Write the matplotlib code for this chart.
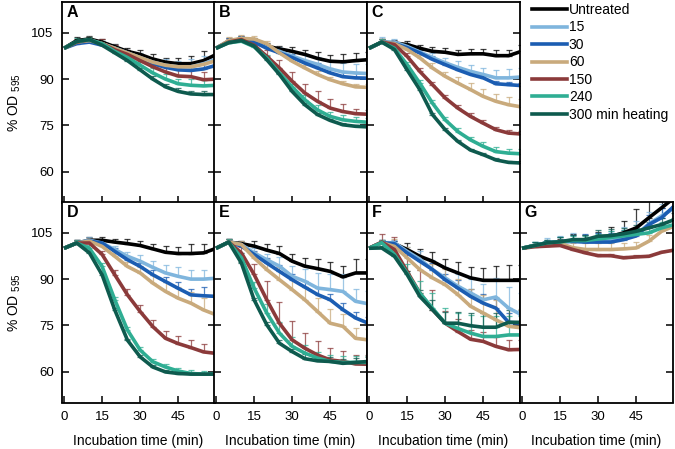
import matplotlib
matplotlib.use('Agg')
import matplotlib.pyplot as plt
from matplotlib.lines import Line2D
import numpy as np

plt.rcParams['font.family'] = ['Liberation Sans', 'DejaVu Sans']
plt.rcParams['mathtext.default'] = 'regular'

# incubation time points (min)
time = [0, 5, 10, 15, 20, 25, 30, 35, 40, 45, 50, 55, 60]
labels = ['Untreated', '15', '30', '60', '150', '240', '300 min heating']
colors = ['#000000', '#7fb5dd', '#1b5db2', '#c9aa7c', '#8b3a3a', '#2fae93', '#0e5a4e']
panel_names = ['A', 'B', 'C', 'D', 'E', 'F', 'G']

# mean % OD595, one row per treatment (Untreated, 15, 30, 60, 150, 240, 300)
panel_A = [
    [100, 102.5, 103, 102, 100.5, 99, 98, 96.5, 95.5, 95, 95, 96, 98],
    [100, 102, 102.5, 101.5, 100, 98.5, 97, 95.5, 94.5, 94, 94, 95, 96.5],
    [100, 101.5, 102, 101, 100, 98.5, 96.5, 95, 93.8, 93, 92.8, 93.3, 94.5],
    [100, 102, 102.5, 101.5, 100, 98.5, 97, 95.5, 94.5, 94, 94, 94.8, 96],
    [100, 102, 102.8, 101.5, 99.5, 98, 96, 94, 92.3, 91, 90.8, 89.8, 90],
    [100, 102.2, 102.8, 101.5, 99, 97, 94.5, 92, 90, 88.5, 88, 87.8, 88],
    [100, 102.2, 102.8, 101, 98.5, 96, 93, 90, 87.5, 86, 85.2, 85, 85],
]
panel_B = [
    [100, 102.3, 103, 102.3, 100.7, 99.8, 99, 98, 96.7, 95.8, 95.6, 96, 96.3],
    [100, 102.3, 103, 102, 100.3, 99, 97.5, 96, 94.8, 93.3, 92.3, 92, 91.8],
    [100, 102.3, 103, 102, 100, 98.5, 97, 95.2, 93.6, 92, 90.8, 90.4, 90.3],
    [100, 102.5, 103.2, 103, 101.5, 98.5, 95.8, 93.6, 91.5, 89.8, 88.5, 87.5, 87.3],
    [100, 102, 102.8, 101, 97.4, 93.6, 89.3, 85.5, 82.8, 80.6, 79.5, 78.8, 78.6],
    [100, 101.8, 102.3, 100.5, 96.8, 92, 87.5, 83.3, 80, 77.9, 76.8, 76.3, 76],
    [100, 101.8, 102.5, 100.7, 96.3, 91.5, 86, 81.7, 78.5, 76.6, 75.2, 74.7, 74.5],
]
panel_C = [
    [100, 102, 101.7, 101.2, 100, 99, 98.7, 98, 98.2, 98.2, 97.6, 97.6, 99],
    [100, 102, 102, 100.6, 98.8, 97, 95.3, 93.8, 92.5, 91.5, 90.4, 90.4, 90.7],
    [100, 102, 101.5, 100.2, 98.5, 96.4, 94.7, 93, 91.5, 90.4, 88.5, 88.2, 87.9],
    [100, 102, 101.5, 99.6, 96.9, 93.6, 90.9, 88.7, 86.6, 84.4, 82.8, 81.7, 81],
    [100, 102, 101.2, 97.4, 92.5, 88.2, 83.9, 80.6, 77.9, 75.7, 73.6, 72.5, 72.2],
    [100, 102, 100, 94.7, 88.7, 82.2, 76.8, 73, 70.3, 68.2, 66.5, 66, 65.8],
    [100, 102, 99.6, 93, 86.6, 78.5, 73.6, 69.8, 67, 65.5, 63.8, 63, 62.8],
]
panel_D = [
    [100, 101.7, 102.6, 102.6, 102, 101.5, 100.9, 99.8, 98.7, 98.3, 98.3, 98.5, 100],
    [100, 101.7, 102.6, 101.7, 99.6, 97.4, 95.8, 93.8, 92, 90.9, 90, 90, 90.3],
    [100, 101.7, 102.3, 101.7, 99, 96.3, 94.1, 91.4, 89.2, 87, 84.9, 84.6, 84.4],
    [100, 101.7, 102.3, 100.6, 97.4, 94.1, 92, 88.7, 86, 83.8, 82.2, 80, 78.4],
    [100, 101.7, 101.7, 98, 91.4, 84.9, 79.5, 74.6, 70.8, 69.1, 67.8, 66.4, 65.9],
    [100, 101.7, 100, 94.1, 83.3, 73.5, 67, 63.2, 61.5, 60.2, 59.4, 59.2, 59.2],
    [100, 101.7, 98.5, 91.4, 80, 70.2, 64.8, 61.5, 59.9, 59.4, 59.2, 59.2, 59.2],
]
panel_E = [
    [100, 102, 101.5, 100.7, 99.4, 98.3, 95.8, 94.2, 93.4, 92.5, 90.7, 92, 92],
    [100, 102, 101.2, 98.5, 96.3, 94.2, 90.9, 89.3, 87.1, 86.6, 86, 82.8, 82],
    [100, 102, 100.7, 98, 95.2, 92.5, 89.8, 87.4, 85, 83.3, 80.1, 77.4, 75.7],
    [100, 102, 101.2, 96.9, 93.1, 89.8, 86.6, 83.3, 79.5, 75.7, 74.7, 70.8, 70.3],
    [100, 102, 98.5, 91.5, 83.3, 75.7, 70.3, 67.6, 65.4, 63.8, 63.3, 62.5, 62.4],
    [100, 102, 96.9, 87.1, 79, 72.5, 68.2, 66, 64.4, 63.3, 63, 63, 63],
    [100, 102, 95.2, 83.3, 75.2, 69.2, 66.5, 64.2, 63.5, 63.3, 62.7, 63, 63.3],
]
panel_F = [
    [100, 101.8, 101.5, 99.6, 97.4, 95.8, 93.6, 92, 90.4, 89.6, 89.6, 89.6, 89.6],
    [100, 101.8, 101.8, 99, 96.5, 93.1, 90.4, 87.7, 85.5, 83.3, 84.2, 80.6, 78.5],
    [100, 101.8, 101.5, 98.5, 95.8, 93.1, 89.8, 87.1, 84.4, 82.2, 80.6, 76, 75.7],
    [100, 101.8, 100.6, 96.9, 93.1, 90.4, 88.2, 85, 81.2, 79, 76.8, 74.7, 74.2],
    [100, 102, 99.6, 92.5, 85.5, 80.1, 75.7, 73, 70.5, 69.8, 68.2, 67.1, 67.2],
    [100, 101.8, 98, 91.9, 85.5, 80.6, 75.7, 74, 72.5, 71.4, 71.4, 71.9, 71.9],
    [100, 100.1, 97.4, 91.5, 84.4, 80.1, 75.7, 75.7, 74.9, 74.4, 74.4, 76, 76],
]
panel_G = [
    [100, 100.9, 101.8, 102.1, 102.5, 102.8, 103.2, 103.8, 105, 106.6, 109.9, 113.1, 116.4],
    [100, 100.9, 101.8, 102.1, 102.5, 102.3, 102.3, 102.5, 103, 104.5, 107.9, 110.5, 113],
    [100, 100.9, 101.8, 102.1, 102.2, 102, 102, 102, 102.8, 104, 107.7, 109.9, 113.7],
    [100, 100.9, 101.5, 101.6, 100.2, 99.6, 99.6, 99.6, 99.8, 100.1, 102.3, 105.5, 107.2],
    [100, 100.5, 100.7, 100.9, 99.6, 98.5, 97.6, 97.6, 96.9, 97.2, 97.4, 98.7, 99.4],
    [100, 100.9, 101.8, 102.1, 102.5, 102.5, 103, 103.5, 104, 104.5, 105, 106.6, 107.7],
    [100, 100.9, 101.8, 102.1, 102.8, 102.8, 103.9, 104.1, 104.7, 105.5, 106.6, 107.7, 109.3],
]

# upper error bars (same layout as above)
err_A = [
    [0, 1, 1, 1, 1, 1, 1.5, 1.5, 1.5, 2, 2.5, 3, 3],
    [0, 1, 1, 1, 1, 1, 1.5, 1.5, 2, 2, 2.5, 2.5, 2.5],
    [0, 1, 1, 1, 1, 1, 1, 1, 1.5, 1.5, 1.5, 1.5, 1.5],
    [0, 1, 1, 1, 1, 1, 1, 1.5, 1.5, 1.5, 1.5, 1.5, 1.5],
    [0, 1, 1, 1.5, 1.5, 1.5, 1.5, 2, 2.5, 2.5, 2.5, 2.5, 2.5],
    [0, 1, 1, 1, 1, 1, 1, 1.5, 1.5, 1.5, 2, 2, 2],
    [0, .5, .5, .5, .5, .5, .5, 1, 1, 1, 1, 1, 1],
]
err_B = [
    [0, 1, 1, 1, 1, 1, 1.5, 1.5, 2, 2, 2.5, 2.5, 2.5],
    [0, 1, 1, 1, 1, 1.5, 1.5, 2, 2.5, 3, 3, 3, 3],
    [0, 1, 1, 1, 1, 1, 1, 1, 1.5, 1.5, 1.5, 1.5, 1.5],
    [0, 1, 1, 1, 1, 1, 1, 1, 1, 1, 1, 1, 1],
    [0, 1, 1, 1.5, 2, 2.5, 3, 3, 3.5, 3, 2.5, 1.5, 1.5],
    [0, 1, 1, 1, 1, 1, 1, 1.5, 1.5, 1.5, 1.5, 1.5, 1.5],
    [0, .5, .5, .5, .5, .5, .5, .5, .5, .5, .5, .5, .5],
]
err_C = [
    [0, 1, 1, 1, 1, 1.5, 1.5, 1.5, 1.5, 1.5, 2, 2, 2],
    [0, 1.5, 1, 1, 1, 1.5, 1.5, 2, 2, 2, 2.5, 3, 3],
    [0, 1, 1, 1, 1, 1, 1, 1, 1, 1, 1, 1, 1],
    [0, 1, 1, 1, 1, 1.5, 1.5, 2, 2, 2.5, 2.5, 2.5, 2.5],
    [0, 1, 1, 1, 1, 1, 1, 1, 1, 1, 1, 1, 1],
    [0, 1, 1, 1, 1, 1, 1, 1, 1, 1.5, 1.5, 1.5, 1.5],
    [0, .5, .5, .5, .5, .5, .5, .5, .5, .5, .5, .5, .5],
]
err_D = [
    [0, 1, 1, 1, 1, 1.5, 1.5, 1.5, 2, 2, 3, 3, 3],
    [0, 1, 1, 1, 1, 1.5, 2, 2, 2.5, 3, 3, 3, 3],
    [0, 1, 1, 1, 1, 1, 1, 1.5, 1.5, 2, 2, 3, 3],
    [0, 1, 1, 1, 1, 1.5, 2, 2.5, 3, 3.5, 3.5, 4, 4],
    [0, 1, 1, 1, 1.5, 2, 2, 2, 2.5, 2.5, 2.5, 2.5, 2.5],
    [0, 1, 1, 1, 1, 1, 1, 1, 1, 1, 1, 1, 1],
    [0, .5, .5, .5, .5, .5, .5, .5, .5, .5, .5, .5, .5],
]
err_E = [
    [0, 1, 1, 1.5, 2, 2.5, 2.5, 2.5, 3, 3, 3.5, 4.5, 4.5],
    [0, 1, 1, 1.5, 2, 3, 3.5, 4, 5, 5, 5.5, 4, 4],
    [0, 1, 1, 1, 1.5, 2, 2, 2, 2, 2, 2, 2, 2],
    [0, 1, 1, 2, 3.5, 4, 4, 4, 4.5, 4.5, 4, 3.5, 3.5],
    [0, 1, 2, 3.5, 6, 7, 6, 5, 4.5, 4, 3.5, 3, 3],
    [0, 1, 1.5, 2, 3, 3.5, 3, 2.5, 2, 2, 2, 2, 2],
    [0, .5, .5, .5, 1, 1, 1, 1.5, 1.5, 1.5, 1.5, 1.5, 1.5],
]
err_F = [
    [0, 1, 1, 2, 2.5, 3, 3, 3.5, 3.5, 4, 4.5, 5, 5],
    [0, 1, 1, 1.5, 2.5, 3, 3.5, 4, 4.5, 5, 6, 7, 7],
    [0, 1, 1, 1, 1.5, 2, 2, 2.5, 2.5, 3, 3, 3, 3],
    [0, 1, 2.5, 3.5, 4, 4.5, 5, 5, 5.5, 6, 6.5, 6, 6],
    [0, 2.5, 4, 7, 7.5, 6.5, 4, 4, 3, 3, 3, 3, 3],
    [0, 1, 1.5, 3, 4, 5, 5, 5, 6, 6.5, 6.5, 6, 6],
    [0, .5, .5, 1, 2, 3, 3.5, 3.5, 4, 4.5, 4.5, 4, 4],
]
err_G = [
    [0, .5, .5, 1, 2, 1.5, 2, 3, 4, 6, 7, 6, 6],
    [0, 1, 1.5, 2, 2.5, 2, 2.5, 3, 4, 4.5, 4, 4, 4],
    [0, 1, 1, 1.5, 2, 2.5, 3, 3, 3, 3, 3, 3, 3],
    [0, .5, 1, 1, 1.5, 2, 2, 2, 2, 2, 2, 2, 2],
    [0, .5, .5, .5, .5, .5, .5, .5, .5, .5, .5, .5, .5],
    [0, 1, 1, 1.5, 1.5, 1.5, 1.5, 2, 2, 2, 2, 2, 2],
    [0, 1, 1, 1.5, 1.5, 1.5, 2, 2, 2, 2, 2, 2, 2],
]

panels = [panel_A, panel_B, panel_C, panel_D, panel_E, panel_F, panel_G]
errors = [err_A, err_B, err_C, err_D, err_E, err_F, err_G]

fig = plt.figure(figsize=(6.75, 4.49), dpi=100)

W, H = 675.0, 449.0
col_left = [62, 214, 367, 520]
col_w = 152.5
row_top = [2, 202]
row_h = 200.5
slots = [(0, 0), (0, 1), (0, 2), (1, 0), (1, 1), (1, 2), (1, 3)]

t = np.array(time)
for k, (r, c) in enumerate(slots):
    ax = fig.add_axes([col_left[c] / W, 1 - (row_top[r] + row_h) / H, col_w / W, row_h / H])
    for i in range(7):
        y = np.array(panels[k][i])
        e = np.array(errors[k][i])
        ax.errorbar(t[1:], y[1:], yerr=[np.zeros(len(e) - 1), e[1:]], fmt='none',
                    ecolor=colors[i], elinewidth=0.9, capsize=2, capthick=0.9, alpha=0.75, zorder=1)
    for i in range(7):
        ax.plot(t, panels[k][i], color=colors[i], lw=2.6, solid_capstyle='butt', zorder=2 + i * 0.01)
    ax.set_xlim(-0.8, 59.3)
    ax.set_ylim(50, 115)
    ax.set_xticks([0, 15, 30, 45])
    ax.set_yticks([60, 75, 90, 105])
    ax.tick_params(direction='in', length=5, width=1.1, right=True, labelsize=9.5, pad=6)
    for s in ax.spines.values():
        s.set_linewidth(1.3)
    if c != 0:
        ax.set_yticklabels([])
    else:
        ax.set_ylabel('% OD $_{595}$', fontsize=10, labelpad=6)
    if r == 0:
        ax.set_xticklabels([])
    else:
        ax.set_xlabel('Incubation time (min)', fontsize=10, labelpad=8)
    ax.text(0.03, 0.985, panel_names[k], transform=ax.transAxes, fontsize=11.5,
            fontweight='bold', va='top', ha='left')

handles = [Line2D([0], [0], color=colors[i], lw=2.6) for i in range(7)]
fig.legend(handles, labels, loc='upper left', bbox_to_anchor=(532 / W, 1 - 3 / H),
           frameon=False, fontsize=10, handlelength=2.5, handletextpad=0.15,
           labelspacing=0.25, borderpad=0, borderaxespad=0)

fig.savefig('out.png', dpi=100)
